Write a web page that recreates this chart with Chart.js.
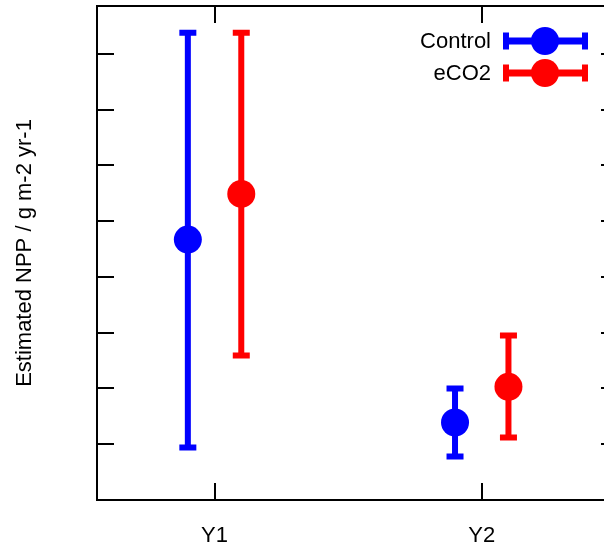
<!DOCTYPE html>
<html>
<head>
<meta charset="utf-8">
<script src="https://cdn.jsdelivr.net/npm/chart.js@4.4.0/dist/chart.umd.min.js"></script>
<style>
  html, body { margin: 0; padding: 0; background: #fff; overflow: hidden; }
  #wrap { position: relative; width: 618px; height: 547px; }
</style>
</head>
<body>
<div id="wrap"><canvas id="chart"></canvas></div>
<script>
// data (y in units where one tick = 100)
const categories = ["Y1", "Y2"];
const controlMean = [467, 139];
const controlLow = [94, 78];
const controlHigh = [838, 200];
const eco2Mean = [549, 203];
const eco2Low = [259, 112];
const eco2High = [838, 295];
const yTickStep = 100;
const yMax = 886;

const BLUE = "#0000ff";
const RED = "#ff0000";
const dodge = 0.1;
const FONT = "'Liberation Sans', Arial, sans-serif";

Chart.defaults.font.family = FONT;
Chart.defaults.color = "#000";

function points(mean, low, high, shift) {
  return categories.map((c, i) => ({ x: i + 1 + shift, y: mean[i], low: low[i], high: high[i] }));
}

// error bars under the points
const errorBars = {
  id: "errorBars",
  beforeDatasetsDraw(chart) {
    const { ctx, scales: { x, y } } = chart;
    chart.data.datasets.forEach((ds) => {
      ctx.save();
      ctx.strokeStyle = ds.backgroundColor;
      ctx.lineWidth = 6;
      ds.data.forEach((p) => {
        const px = x.getPixelForValue(p.x);
        const top = y.getPixelForValue(p.high);
        const bot = y.getPixelForValue(p.low);
        ctx.beginPath();
        ctx.moveTo(px, top); ctx.lineTo(px, bot);
        ctx.moveTo(px - 8.5, top); ctx.lineTo(px + 8.5, top);
        ctx.moveTo(px - 8.5, bot); ctx.lineTo(px + 8.5, bot);
        ctx.stroke();
      });
      ctx.restore();
    });
  },
};

// box, inward ticks and the legend
const frame = {
  id: "frame",
  afterDraw(chart) {
    const { ctx, chartArea: a, scales: { x, y } } = chart;
    ctx.save();
    ctx.strokeStyle = "#000";
    ctx.lineWidth = 2;
    ctx.strokeRect(a.left, a.top, a.right - a.left, a.bottom - a.top);
    ctx.beginPath();
    for (let v = 0; v <= yMax; v += yTickStep) {
      const py = Math.round(y.getPixelForValue(v));
      ctx.moveTo(a.left, py); ctx.lineTo(a.left + 17, py);
      ctx.moveTo(a.right - 17, py); ctx.lineTo(a.right, py);
    }
    categories.forEach((c, i) => {
      const px = Math.round(x.getPixelForValue(i + 1));
      ctx.moveTo(px, a.bottom); ctx.lineTo(px, a.bottom - 17);
      ctx.moveTo(px, a.top); ctx.lineTo(px, a.top + 17);
    });
    ctx.stroke();

    // legend
    ctx.font = "22px " + FONT;
    ctx.textAlign = "right";
    ctx.textBaseline = "middle";
    chart.data.datasets.forEach((ds, i) => {
      const ly = 41 + i * 32;
      const x0 = 503, x1 = 588, cx = 545;
      ctx.fillStyle = "#000";
      ctx.fillText(ds.label, 491, ly + 1);
      ctx.strokeStyle = ds.backgroundColor;
      ctx.lineWidth = 7;
      ctx.beginPath();
      ctx.moveTo(x0, ly); ctx.lineTo(x1, ly);
      ctx.stroke();
      ctx.lineWidth = 6;
      ctx.beginPath();
      ctx.moveTo(x0 + 3, ly - 8.5); ctx.lineTo(x0 + 3, ly + 8.5);
      ctx.moveTo(x1 - 3, ly - 8.5); ctx.lineTo(x1 - 3, ly + 8.5);
      ctx.stroke();
      ctx.fillStyle = ds.backgroundColor;
      ctx.beginPath();
      ctx.arc(cx, ly, 14, 0, Math.PI * 2);
      ctx.fill();
    });
    ctx.restore();
  },
};

new Chart(document.getElementById("chart").getContext("2d"), {
  type: "scatter",
  data: {
    datasets: [
      {
        label: "Control",
        data: points(controlMean, controlLow, controlHigh, -dodge),
        backgroundColor: BLUE,
        borderWidth: 0,
        pointRadius: 14,
      },
      {
        label: "eCO2",
        data: points(eco2Mean, eco2Low, eco2High, dodge),
        backgroundColor: RED,
        borderWidth: 0,
        pointRadius: 14,
      },
    ],
  },
  options: {
    responsive: true,
    maintainAspectRatio: false,
    animation: false,
    layout: { autoPadding: false, padding: { top: 6, right: 0, left: 0, bottom: 0 } },
    plugins: { legend: { display: false }, tooltip: { enabled: false } },
    scales: {
      x: {
        type: "linear",
        min: 0.56,
        max: 2.51,
        grid: { display: false },
        border: { display: false },
        afterBuildTicks: (s) => { s.ticks = categories.map((c, i) => ({ value: i + 1 })); },
        ticks: {
          padding: 15,
          font: { size: 22 },
          color: "#000",
          callback: (v) => categories[v - 1],
        },
        afterFit: (s) => { s.height = 47; },
      },
      y: {
        min: 0,
        max: yMax,
        grid: { display: false },
        border: { display: false },
        ticks: { display: false, stepSize: yTickStep },
        title: {
          display: true,
          text: "Estimated NPP / g m-2 yr-1",
          font: { size: 22 },
          color: "#000",
          padding: { top: 12, bottom: 0 },
        },
        afterFit: (s) => { s.width = 97; },
      },
    },
  },
  plugins: [errorBars, frame],
});
</script>
</body>
</html>
